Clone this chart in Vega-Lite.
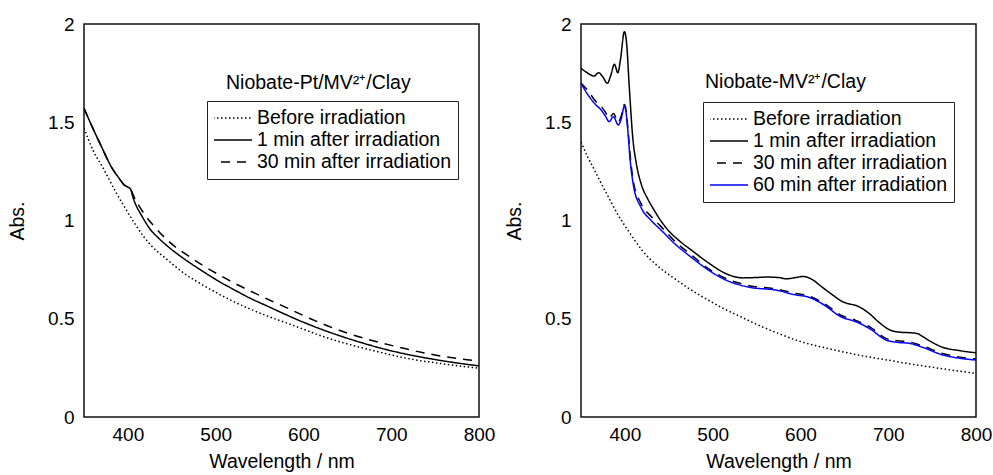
{
  "$schema": "https://vega.github.io/schema/vega-lite/v6.json",
  "padding": {"left": 6, "top": 14, "right": 0, "bottom": 0},
  "bounds": "flush",
  "spacing": 102,
  "resolve": {"scale": {"color": "independent", "strokeDash": "independent"}, "legend": {"color": "independent", "strokeDash": "independent"}},
  "config": {
    "font": "Liberation Sans",
    "view": {"stroke": "#111", "strokeWidth": 1.5},
    "axis": {"domain": false, "ticks": false, "grid": false, "labelFontSize": 19, "labelColor": "#000", "titleFontSize": 19.5, "titleFontWeight": "normal", "titleColor": "#000", "labelFlush": false, "labelOverlap": false},
    "axisX": {"labelPadding": 8, "titlePadding": 8},
    "axisY": {"labelPadding": 10, "titlePadding": 20},
    "legend": {"orient": "none", "labelFontSize": 19.5, "labelColor": "#000", "symbolSize": 1444, "symbolStrokeWidth": 1.4, "symbolType": "stroke", "symbolDashOffset": 9, "clipHeight": 22, "rowPadding": 0, "labelOffset": 4, "padding": 6, "strokeColor": "#222", "symbolOffset": 0, "labelLimit": 400},
    "title": {"fontSize": 19.5, "fontWeight": "normal", "anchor": "start", "frame": "group", "offset": 0, "baseline": "alphabetic", "color": "#000"},
    "line": {"strokeWidth": 1.5, "interpolate": "monotone"}
  },
  "datasets": {
    "a": [
      {"series": "Before irradiation", "wl": 350, "abs": 1.47},
      {"series": "Before irradiation", "wl": 360, "abs": 1.36},
      {"series": "Before irradiation", "wl": 373, "abs": 1.257},
      {"series": "Before irradiation", "wl": 385, "abs": 1.155},
      {"series": "Before irradiation", "wl": 396, "abs": 1.07},
      {"series": "Before irradiation", "wl": 407, "abs": 0.99},
      {"series": "Before irradiation", "wl": 418, "abs": 0.918},
      {"series": "Before irradiation", "wl": 426, "abs": 0.875},
      {"series": "Before irradiation", "wl": 445, "abs": 0.8},
      {"series": "Before irradiation", "wl": 464, "abs": 0.731},
      {"series": "Before irradiation", "wl": 483, "abs": 0.678},
      {"series": "Before irradiation", "wl": 502, "abs": 0.63},
      {"series": "Before irradiation", "wl": 520, "abs": 0.588},
      {"series": "Before irradiation", "wl": 540, "abs": 0.548},
      {"series": "Before irradiation", "wl": 560, "abs": 0.512},
      {"series": "Before irradiation", "wl": 578, "abs": 0.483},
      {"series": "Before irradiation", "wl": 600, "abs": 0.447},
      {"series": "Before irradiation", "wl": 620, "abs": 0.413},
      {"series": "Before irradiation", "wl": 646, "abs": 0.377},
      {"series": "Before irradiation", "wl": 685, "abs": 0.332},
      {"series": "Before irradiation", "wl": 722, "abs": 0.295},
      {"series": "Before irradiation", "wl": 760, "abs": 0.27},
      {"series": "Before irradiation", "wl": 800, "abs": 0.248},
      {"series": "1 min after irradiation", "wl": 350, "abs": 1.571},
      {"series": "1 min after irradiation", "wl": 360, "abs": 1.47},
      {"series": "1 min after irradiation", "wl": 370, "abs": 1.375},
      {"series": "1 min after irradiation", "wl": 382, "abs": 1.266},
      {"series": "1 min after irradiation", "wl": 390, "abs": 1.215},
      {"series": "1 min after irradiation", "wl": 396, "abs": 1.18},
      {"series": "1 min after irradiation", "wl": 400, "abs": 1.17},
      {"series": "1 min after irradiation", "wl": 403, "abs": 1.16},
      {"series": "1 min after irradiation", "wl": 406, "abs": 1.115},
      {"series": "1 min after irradiation", "wl": 409, "abs": 1.08},
      {"series": "1 min after irradiation", "wl": 415, "abs": 1.03},
      {"series": "1 min after irradiation", "wl": 426, "abs": 0.952},
      {"series": "1 min after irradiation", "wl": 435, "abs": 0.91},
      {"series": "1 min after irradiation", "wl": 445, "abs": 0.87},
      {"series": "1 min after irradiation", "wl": 464, "abs": 0.805},
      {"series": "1 min after irradiation", "wl": 483, "abs": 0.748},
      {"series": "1 min after irradiation", "wl": 502, "abs": 0.695},
      {"series": "1 min after irradiation", "wl": 520, "abs": 0.65},
      {"series": "1 min after irradiation", "wl": 540, "abs": 0.603},
      {"series": "1 min after irradiation", "wl": 560, "abs": 0.562},
      {"series": "1 min after irradiation", "wl": 578, "abs": 0.525},
      {"series": "1 min after irradiation", "wl": 600, "abs": 0.482},
      {"series": "1 min after irradiation", "wl": 620, "abs": 0.447},
      {"series": "1 min after irradiation", "wl": 654, "abs": 0.395},
      {"series": "1 min after irradiation", "wl": 700, "abs": 0.337},
      {"series": "1 min after irradiation", "wl": 753, "abs": 0.29},
      {"series": "1 min after irradiation", "wl": 800, "abs": 0.26},
      {"series": "30 min after irradiation", "wl": 350, "abs": 1.571},
      {"series": "30 min after irradiation", "wl": 360, "abs": 1.47},
      {"series": "30 min after irradiation", "wl": 370, "abs": 1.375},
      {"series": "30 min after irradiation", "wl": 382, "abs": 1.266},
      {"series": "30 min after irradiation", "wl": 390, "abs": 1.215},
      {"series": "30 min after irradiation", "wl": 396, "abs": 1.18},
      {"series": "30 min after irradiation", "wl": 400, "abs": 1.17},
      {"series": "30 min after irradiation", "wl": 403, "abs": 1.16},
      {"series": "30 min after irradiation", "wl": 407, "abs": 1.12},
      {"series": "30 min after irradiation", "wl": 412, "abs": 1.08},
      {"series": "30 min after irradiation", "wl": 420, "abs": 1.025},
      {"series": "30 min after irradiation", "wl": 430, "abs": 0.97},
      {"series": "30 min after irradiation", "wl": 445, "abs": 0.9},
      {"series": "30 min after irradiation", "wl": 468, "abs": 0.822},
      {"series": "30 min after irradiation", "wl": 485, "abs": 0.772},
      {"series": "30 min after irradiation", "wl": 502, "abs": 0.728},
      {"series": "30 min after irradiation", "wl": 520, "abs": 0.684},
      {"series": "30 min after irradiation", "wl": 540, "abs": 0.64},
      {"series": "30 min after irradiation", "wl": 560, "abs": 0.598},
      {"series": "30 min after irradiation", "wl": 580, "abs": 0.558},
      {"series": "30 min after irradiation", "wl": 608, "abs": 0.5},
      {"series": "30 min after irradiation", "wl": 648, "abs": 0.43},
      {"series": "30 min after irradiation", "wl": 707, "abs": 0.357},
      {"series": "30 min after irradiation", "wl": 747, "abs": 0.318},
      {"series": "30 min after irradiation", "wl": 789, "abs": 0.29},
      {"series": "30 min after irradiation", "wl": 800, "abs": 0.285}
    ],
    "b": [
      {"series": "Before irradiation", "wl": 350, "abs": 1.4},
      {"series": "Before irradiation", "wl": 358, "abs": 1.32},
      {"series": "Before irradiation", "wl": 365, "abs": 1.26},
      {"series": "Before irradiation", "wl": 372, "abs": 1.198},
      {"series": "Before irradiation", "wl": 380, "abs": 1.13},
      {"series": "Before irradiation", "wl": 392, "abs": 1.03},
      {"series": "Before irradiation", "wl": 405, "abs": 0.94},
      {"series": "Before irradiation", "wl": 420, "abs": 0.846},
      {"series": "Before irradiation", "wl": 437, "abs": 0.77},
      {"series": "Before irradiation", "wl": 456, "abs": 0.706},
      {"series": "Before irradiation", "wl": 475, "abs": 0.648},
      {"series": "Before irradiation", "wl": 494, "abs": 0.597},
      {"series": "Before irradiation", "wl": 512, "abs": 0.553},
      {"series": "Before irradiation", "wl": 532, "abs": 0.51},
      {"series": "Before irradiation", "wl": 551, "abs": 0.47},
      {"series": "Before irradiation", "wl": 575, "abs": 0.425},
      {"series": "Before irradiation", "wl": 603, "abs": 0.38},
      {"series": "Before irradiation", "wl": 630, "abs": 0.35},
      {"series": "Before irradiation", "wl": 650, "abs": 0.33},
      {"series": "Before irradiation", "wl": 675, "abs": 0.308},
      {"series": "Before irradiation", "wl": 699, "abs": 0.29},
      {"series": "Before irradiation", "wl": 725, "abs": 0.27},
      {"series": "Before irradiation", "wl": 750, "abs": 0.253},
      {"series": "Before irradiation", "wl": 775, "abs": 0.237},
      {"series": "Before irradiation", "wl": 800, "abs": 0.222},
      {"series": "1 min after irradiation", "wl": 350, "abs": 1.775},
      {"series": "1 min after irradiation", "wl": 358, "abs": 1.749},
      {"series": "1 min after irradiation", "wl": 365, "abs": 1.735},
      {"series": "1 min after irradiation", "wl": 370, "abs": 1.752},
      {"series": "1 min after irradiation", "wl": 375, "abs": 1.73},
      {"series": "1 min after irradiation", "wl": 380, "abs": 1.698},
      {"series": "1 min after irradiation", "wl": 384, "abs": 1.74},
      {"series": "1 min after irradiation", "wl": 388, "abs": 1.795},
      {"series": "1 min after irradiation", "wl": 392, "abs": 1.752},
      {"series": "1 min after irradiation", "wl": 395, "abs": 1.82},
      {"series": "1 min after irradiation", "wl": 399.4, "abs": 1.961},
      {"series": "1 min after irradiation", "wl": 402, "abs": 1.9},
      {"series": "1 min after irradiation", "wl": 405, "abs": 1.68},
      {"series": "1 min after irradiation", "wl": 409, "abs": 1.42},
      {"series": "1 min after irradiation", "wl": 413, "abs": 1.29},
      {"series": "1 min after irradiation", "wl": 419, "abs": 1.18},
      {"series": "1 min after irradiation", "wl": 426, "abs": 1.11},
      {"series": "1 min after irradiation", "wl": 433, "abs": 1.055},
      {"series": "1 min after irradiation", "wl": 440, "abs": 1.005},
      {"series": "1 min after irradiation", "wl": 449, "abs": 0.952},
      {"series": "1 min after irradiation", "wl": 462, "abs": 0.897},
      {"series": "1 min after irradiation", "wl": 477, "abs": 0.845},
      {"series": "1 min after irradiation", "wl": 495, "abs": 0.785},
      {"series": "1 min after irradiation", "wl": 515, "abs": 0.73},
      {"series": "1 min after irradiation", "wl": 534, "abs": 0.708},
      {"series": "1 min after irradiation", "wl": 550, "abs": 0.71},
      {"series": "1 min after irradiation", "wl": 561, "abs": 0.712},
      {"series": "1 min after irradiation", "wl": 575, "abs": 0.71},
      {"series": "1 min after irradiation", "wl": 584, "abs": 0.703},
      {"series": "1 min after irradiation", "wl": 595, "abs": 0.71},
      {"series": "1 min after irradiation", "wl": 603, "abs": 0.715},
      {"series": "1 min after irradiation", "wl": 612, "abs": 0.703},
      {"series": "1 min after irradiation", "wl": 625, "abs": 0.66},
      {"series": "1 min after irradiation", "wl": 637, "abs": 0.62},
      {"series": "1 min after irradiation", "wl": 648, "abs": 0.587},
      {"series": "1 min after irradiation", "wl": 656, "abs": 0.575},
      {"series": "1 min after irradiation", "wl": 663, "abs": 0.568},
      {"series": "1 min after irradiation", "wl": 671, "abs": 0.55},
      {"series": "1 min after irradiation", "wl": 678, "abs": 0.528},
      {"series": "1 min after irradiation", "wl": 690, "abs": 0.48},
      {"series": "1 min after irradiation", "wl": 701, "abs": 0.445},
      {"series": "1 min after irradiation", "wl": 712, "abs": 0.432},
      {"series": "1 min after irradiation", "wl": 724, "abs": 0.429},
      {"series": "1 min after irradiation", "wl": 733, "abs": 0.425},
      {"series": "1 min after irradiation", "wl": 739, "abs": 0.41},
      {"series": "1 min after irradiation", "wl": 750, "abs": 0.38},
      {"series": "1 min after irradiation", "wl": 762, "abs": 0.355},
      {"series": "1 min after irradiation", "wl": 781, "abs": 0.338},
      {"series": "1 min after irradiation", "wl": 800, "abs": 0.327},
      {"series": "30 min after irradiation", "wl": 350, "abs": 1.7},
      {"series": "30 min after irradiation", "wl": 358, "abs": 1.66},
      {"series": "30 min after irradiation", "wl": 367, "abs": 1.605},
      {"series": "30 min after irradiation", "wl": 373, "abs": 1.58},
      {"series": "30 min after irradiation", "wl": 378, "abs": 1.55},
      {"series": "30 min after irradiation", "wl": 382, "abs": 1.52},
      {"series": "30 min after irradiation", "wl": 387, "abs": 1.545},
      {"series": "30 min after irradiation", "wl": 392.5, "abs": 1.5},
      {"series": "30 min after irradiation", "wl": 396, "abs": 1.535},
      {"series": "30 min after irradiation", "wl": 399.4, "abs": 1.59},
      {"series": "30 min after irradiation", "wl": 401, "abs": 1.57},
      {"series": "30 min after irradiation", "wl": 403, "abs": 1.49},
      {"series": "30 min after irradiation", "wl": 406, "abs": 1.33},
      {"series": "30 min after irradiation", "wl": 410, "abs": 1.19},
      {"series": "30 min after irradiation", "wl": 418, "abs": 1.09},
      {"series": "30 min after irradiation", "wl": 430, "abs": 1.02},
      {"series": "30 min after irradiation", "wl": 441, "abs": 0.97},
      {"series": "30 min after irradiation", "wl": 458, "abs": 0.89},
      {"series": "30 min after irradiation", "wl": 477, "abs": 0.82},
      {"series": "30 min after irradiation", "wl": 495, "abs": 0.755},
      {"series": "30 min after irradiation", "wl": 515, "abs": 0.705},
      {"series": "30 min after irradiation", "wl": 542, "abs": 0.668},
      {"series": "30 min after irradiation", "wl": 572, "abs": 0.652},
      {"series": "30 min after irradiation", "wl": 595, "abs": 0.628},
      {"series": "30 min after irradiation", "wl": 608, "abs": 0.618},
      {"series": "30 min after irradiation", "wl": 627, "abs": 0.578},
      {"series": "30 min after irradiation", "wl": 646, "abs": 0.518},
      {"series": "30 min after irradiation", "wl": 663, "abs": 0.492},
      {"series": "30 min after irradiation", "wl": 678.5, "abs": 0.46},
      {"series": "30 min after irradiation", "wl": 697.5, "abs": 0.4},
      {"series": "30 min after irradiation", "wl": 710, "abs": 0.388},
      {"series": "30 min after irradiation", "wl": 724, "abs": 0.382},
      {"series": "30 min after irradiation", "wl": 739, "abs": 0.362},
      {"series": "30 min after irradiation", "wl": 762, "abs": 0.323},
      {"series": "30 min after irradiation", "wl": 780, "abs": 0.306},
      {"series": "30 min after irradiation", "wl": 800, "abs": 0.295},
      {"series": "60 min after irradiation", "wl": 350, "abs": 1.698},
      {"series": "60 min after irradiation", "wl": 358, "abs": 1.639},
      {"series": "60 min after irradiation", "wl": 367, "abs": 1.588},
      {"series": "60 min after irradiation", "wl": 373, "abs": 1.562},
      {"series": "60 min after irradiation", "wl": 378, "abs": 1.53},
      {"series": "60 min after irradiation", "wl": 382, "abs": 1.503},
      {"series": "60 min after irradiation", "wl": 387, "abs": 1.528},
      {"series": "60 min after irradiation", "wl": 392.5, "abs": 1.486},
      {"series": "60 min after irradiation", "wl": 396, "abs": 1.52},
      {"series": "60 min after irradiation", "wl": 399.4, "abs": 1.583},
      {"series": "60 min after irradiation", "wl": 401, "abs": 1.56},
      {"series": "60 min after irradiation", "wl": 403, "abs": 1.477},
      {"series": "60 min after irradiation", "wl": 406, "abs": 1.308},
      {"series": "60 min after irradiation", "wl": 410, "abs": 1.172},
      {"series": "60 min after irradiation", "wl": 418, "abs": 1.07},
      {"series": "60 min after irradiation", "wl": 430, "abs": 1.0},
      {"series": "60 min after irradiation", "wl": 441, "abs": 0.952},
      {"series": "60 min after irradiation", "wl": 458, "abs": 0.877},
      {"series": "60 min after irradiation", "wl": 477, "abs": 0.808},
      {"series": "60 min after irradiation", "wl": 495, "abs": 0.748},
      {"series": "60 min after irradiation", "wl": 515, "abs": 0.697},
      {"series": "60 min after irradiation", "wl": 542, "abs": 0.66},
      {"series": "60 min after irradiation", "wl": 572, "abs": 0.646},
      {"series": "60 min after irradiation", "wl": 595, "abs": 0.621},
      {"series": "60 min after irradiation", "wl": 608, "abs": 0.612},
      {"series": "60 min after irradiation", "wl": 627, "abs": 0.57},
      {"series": "60 min after irradiation", "wl": 646, "abs": 0.51},
      {"series": "60 min after irradiation", "wl": 663, "abs": 0.485},
      {"series": "60 min after irradiation", "wl": 678.5, "abs": 0.451},
      {"series": "60 min after irradiation", "wl": 697.5, "abs": 0.392},
      {"series": "60 min after irradiation", "wl": 710, "abs": 0.38},
      {"series": "60 min after irradiation", "wl": 724, "abs": 0.375},
      {"series": "60 min after irradiation", "wl": 739, "abs": 0.355},
      {"series": "60 min after irradiation", "wl": 762, "abs": 0.316},
      {"series": "60 min after irradiation", "wl": 780, "abs": 0.3},
      {"series": "60 min after irradiation", "wl": 800, "abs": 0.29}
    ]
  },
  "hconcat": [
    {
      "width": 395,
      "height": 393,
      "data": {"name": "a"},
      "title": {"text": "Niobate-Pt/MV²⁺/Clay", "dx": 142, "dy": 82},
      "mark": {"type": "line", "clip": true},
      "encoding": {
        "x": {"field": "wl", "type": "quantitative", "scale": {"domain": [350, 800]}, "axis": {"values": [400, 500, 600, 700, 800], "title": "Wavelength / nm"}},
        "y": {"field": "abs", "type": "quantitative", "scale": {"domain": [0, 2]}, "axis": {"values": [0, 0.5, 1, 1.5, 2], "format": "~g", "title": "Abs."}},
        "color": {"field": "series", "type": "nominal", "scale": {"domain": ["Before irradiation", "1 min after irradiation", "30 min after irradiation"], "range": ["#000000", "#000000", "#000000"]}, "legend": {"title": null, "legendX": 123, "legendY": 77}},
        "strokeDash": {"field": "series", "type": "nominal", "scale": {"domain": ["Before irradiation", "1 min after irradiation", "30 min after irradiation"], "range": [[1.5, 2.5], [1, 0], [9, 7]]}, "legend": {"title": null, "legendX": 123, "legendY": 77}}
      }
    },
    {
      "width": 395,
      "height": 393,
      "data": {"name": "b"},
      "title": {"text": "Niobate-MV²⁺/Clay", "dx": 124, "dy": 81},
      "mark": {"type": "line", "clip": true},
      "encoding": {
        "x": {"field": "wl", "type": "quantitative", "scale": {"domain": [350, 800]}, "axis": {"values": [400, 500, 600, 700, 800], "title": "Wavelength / nm"}},
        "y": {"field": "abs", "type": "quantitative", "scale": {"domain": [0, 2]}, "axis": {"values": [0, 0.5, 1, 1.5, 2], "format": "~g", "title": "Abs."}},
        "color": {"field": "series", "type": "nominal", "scale": {"domain": ["Before irradiation", "1 min after irradiation", "30 min after irradiation", "60 min after irradiation"], "range": ["#000000", "#000000", "#000000", "#0000ff"]}, "legend": {"title": null, "legendX": 122, "legendY": 78, "encode": {"labels": {"update": {"fill": {"signal": "datum.value === '60 min after irradiation' ? '#0000ff' : '#000000'"}}}}}},
        "strokeDash": {"field": "series", "type": "nominal", "scale": {"domain": ["Before irradiation", "1 min after irradiation", "30 min after irradiation", "60 min after irradiation"], "range": [[1.5, 2.5], [1, 0], [9, 7], [1, 0]]}, "legend": {"title": null, "legendX": 122, "legendY": 78, "encode": {"labels": {"update": {"fill": {"signal": "datum.value === '60 min after irradiation' ? '#0000ff' : '#000000'"}}}}}}
      }
    }
  ]
}
